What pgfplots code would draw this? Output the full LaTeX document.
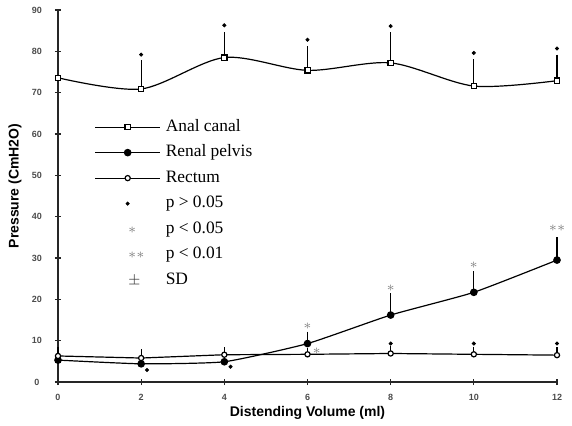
\documentclass[border=0pt]{standalone}
\usepackage{pgfplots}
\pgfplotsset{compat=1.18}
\usepackage{fontspec}
\setmainfont{Liberation Serif}
\setsansfont{Liberation Sans}
\begin{document}
\begin{tikzpicture}
\begin{axis}[
  name=ax,
  scale only axis,
  width=249.5pt, height=186pt,
  xmin=0, xmax=12, ymin=0, ymax=90,
  axis lines=left,
  axis line style={-, line width=0.6pt, black!85},
  xtick={0,2,...,12}, ytick={0,10,...,90},
  tick align=center,
  major tick length=3pt,
  tick style={line width=0.6pt, black!85},
  /pgf/number format/assume math mode=true,
  ticklabel style={font=\sffamily\bfseries\fontsize{4.5}{5}\selectfont, text=black!70},
  xticklabel style={anchor=center, yshift=-6pt},
  yticklabel style={anchor=center, xshift=-9pt},
  xlabel={Distending Volume (ml)},
  ylabel={Pressure (CmH2O)},
  label style={font=\sffamily\bfseries\fontsize{7}{8}\selectfont},
  xlabel style={at={(axis description cs:0.5,-0.082)}, anchor=center},
  ylabel style={at={(axis description cs:-0.0862,0.527)}, anchor=center},
  clip=false,
  legend image code/.code={\draw[mark repeat=2,mark phase=2,#1] plot coordinates {(0pt,0pt) (16.25pt,0pt) (32.5pt,0pt)};},
  legend style={at={(axis cs:0.87,63.7)}, anchor=north west, draw=none, fill=none, inner sep=0pt, row sep=4.75pt,
    font=\fontsize{8.7}{9}\selectfont,
    nodes={inner xsep=2.5pt, inner ysep=0pt, text height=6pt, text depth=2pt},
    row 4/.style={every node/.append style={text height=10pt}}},
  legend cell align=left,
  error bars/error bar style={line width=0.6pt, black},
  error bars/error mark options={line width=0.6pt, black, mark size=1.4pt},
]
\addplot[black, line width=0.6pt, smooth, tension=0.5, mark=square*, mark size=1.3pt,
  mark options={solid, fill=white},
  error bars/.cd, y dir=plus, y explicit]
  table[x=x, y=y, y error=e] {
   x  y    e
   0  73.6 0
   2  70.9 6.3
   4  78.5 5.5
   6  75.4 5.1
   8  77.2 6.7
   10 71.6 5.8
   12 72.9 5.6
  };
\addlegendentry{Anal canal}
\addplot[black, line width=0.6pt, smooth, tension=0.3, mark=*, mark size=1.6pt,
  mark options={solid, fill=black},
  error bars/.cd, y dir=plus, y explicit]
  table[x=x, y=y, y error=e] {
   x  y    e
   0  5.3  1.5
   2  4.4  2.8
   4  4.9  2.8
   6  9.3  2.2
   8  16.2 4.6
   10 21.7 4.4
   12 29.5 4.9
  };
\addlegendentry{Renal pelvis}
\addplot[black, line width=0.6pt, mark=*, mark size=1.3pt,
  mark options={solid, fill=white},
  error bars/.cd, y dir=plus, y explicit]
  table[x=x, y=y, y error=e] {
   x  y    e
   0  6.3  1.5
   2  5.8  0.8
   4  6.6  0.8
   6  6.7  0.8
   8  6.9  1.2
   10 6.7  1.2
   12 6.5  1.2
  };
\addlegendentry{Rectum}
\addlegendimage{only marks, mark=*, mark size=0.8pt, black}
\addlegendentry{p > 0.05}
\addlegendimage{only marks, mark=text, text mark={$\ast$}, text mark as node=true, text mark style={font=\fontsize{7}{7}\selectfont, text=gray, inner sep=0pt}}
\addlegendentry{p < 0.05}
\addlegendimage{only marks, mark=text, text mark={$\ast\ast$}, text mark as node=true, text mark style={font=\fontsize{7}{7}\selectfont, text=gray, inner sep=0pt}}
\addlegendentry{p < 0.01}
\addlegendimage{only marks, mark=text, text mark={$\pm$}, text mark as node=true, text mark style={font=\fontsize{7}{7}\selectfont, text=black!80, inner sep=0pt}}
\addlegendentry{SD}
% significance annotations
\addplot[only marks, mark=*, mark size=0.8pt, black, forget plot] coordinates {
  (2,79.2) (4,86.3) (6,82.8) (8,86.1) (10,79.6) (12,80.7)
  (2.14,2.9) (4.15,3.7) (8,9.3) (10,9.3) (12,9.3)};
\addplot[only marks, mark=text, text mark={$\ast$}, text mark as node=true, text mark style={font=\fontsize{7}{7}\selectfont, text=gray, inner sep=0pt}, forget plot] coordinates {
  (6,13.4) (8,22.6) (10,28.2) (6.22,7.4)};
\addplot[only marks, mark=text, text mark={$\ast\ast$}, text mark as node=true, text mark style={font=\fontsize{7}{7}\selectfont, text=gray, inner sep=0pt}, forget plot] coordinates {
  (12,37.2)};
\end{axis}
\pgfresetboundingbox
\path (ax.south west) ++(-29pt,-21.5pt) rectangle ++(286pt,212.5pt);
\end{tikzpicture}
\end{document}
